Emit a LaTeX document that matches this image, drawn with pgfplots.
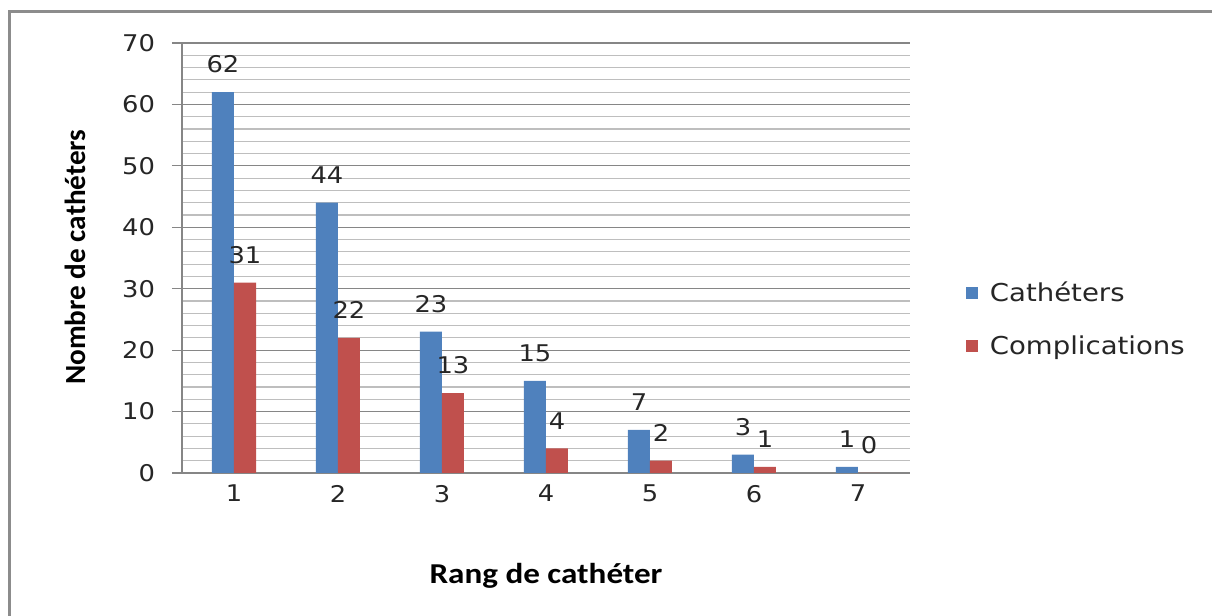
\documentclass[border=0pt]{standalone}
\usepackage{pgfplots}
\pgfplotsset{compat=1.18}
\usepackage{fontspec}
\setmainfont[FakeStretch=1.12]{DejaVu Sans}
\newfontfamily\titlefont[FakeStretch=1.15]{Carlito}
\newfontfamily\vtitlefont{Carlito}
\definecolor{cblue}{HTML}{4F81BD}
\definecolor{cred}{HTML}{C0504D}
\definecolor{gmajor}{HTML}{868686}
\definecolor{gminor}{HTML}{BEBEBE}
\definecolor{frame}{HTML}{8C8C8C}
\begin{document}
\begin{tikzpicture}
\begin{axis}[
  at={(91pt,71.5pt)}, anchor=south west,
  scale only axis, width=364pt, height=215pt,
  xmin=0.5, xmax=7.5, ymin=0, ymax=70,
  axis x line*=bottom, axis y line*=left,
  axis line style={gmajor, line width=0.7pt},
  xtick={1,...,7}, ytick={0,10,...,70},
  minor ytick={2,4,6,8,12,14,16,18,22,24,26,28,32,34,36,38,42,44,46,48,52,54,56,58,62,64,66,68},
  ymajorgrids, yminorgrids,
  major grid style={gmajor, line width=0.6pt},
  minor grid style={gminor, line width=0.6pt},
  tick align=outside,
  major y tick style={gmajor, line width=0.6pt},
  major tick length=5pt,
  minor tick length=0pt,
  x tick style={draw=none},
  /pgf/number format/assume math mode=true,
  tick label style={font=\fontsize{11.5}{13}\selectfont, text=black!85},
  yticklabel style={xshift=-5pt},
  xticklabel style={yshift=2.5pt},
  ybar=0pt, bar width=11pt,
  nodes near coords,
  every node near coord/.append style={font=\fontsize{11.5}{13}\selectfont, text=black!85, yshift=6pt},
  xlabel={\titlefont\bfseries\fontsize{14.4}{16}\selectfont Rang de cathéter},
  ylabel={\vtitlefont\bfseries\fontsize{14.6}{16}\selectfont Nombre de cathéters},
  xlabel style={at={(axis description cs:0.5,-0.2395)}, anchor=center},
  ylabel style={at={(axis description cs:-0.147,0.502)}, anchor=center, rotate=0},
  legend style={draw=none, fill=none, at={(axis description cs:1.068,0.357)}, anchor=west,
    font=\fontsize{12.3}{14}\selectfont, text=black!85, row sep=11.5pt},
  legend cell align=left,
  legend image code/.code={\fill[#1] (0pt,-3pt) rectangle (6pt,3pt); \path (10pt,0pt);},
]
\addplot[fill=cblue, draw=none] coordinates {(1,62) (2,44) (3,23) (4,15) (5,7) (6,3) (7,1)};
\addplot[fill=cred, draw=none] coordinates {(1,31) (2,22) (3,13) (4,4) (5,2) (6,1) (7,0)};
\legend{Cathéters, Complications}
\end{axis}
\draw[frame, line width=1.3pt] (4.75pt,0pt) -- (4.75pt,302.25pt) -- (606pt,302.25pt);
\pgfresetboundingbox
\path[use as bounding box] (0,0) rectangle (606pt,308pt);
\end{tikzpicture}
\end{document}
